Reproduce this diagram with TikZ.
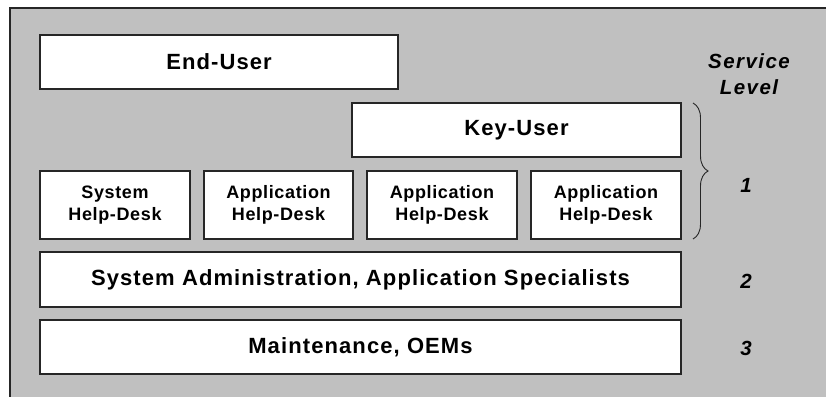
\documentclass[tikz,border=0pt]{standalone}
\usepackage{fontspec}
\setmainfont{Liberation Sans}
\newfontfamily\wide{Liberation Sans}[LetterSpace=5]
\newfontfamily\narrow{Liberation Sans}[LetterSpace=3.5]
\newfontfamily\widest{Liberation Sans}[LetterSpace=7]
\usetikzlibrary{decorations.pathreplacing}

\definecolor{panel}{HTML}{C0C0C0}
\definecolor{edge}{HTML}{262626}

\tikzset{
  layer/.style={draw=edge, line width=1.5pt, fill=white, inner sep=0pt,
    align=center, font=\wide\bfseries\fontsize{22}{26}\selectfont},
  desk/.style={layer, minimum width=150pt, minimum height=68pt,
    font=\narrow\bfseries\fontsize{18}{22}\selectfont},
  lvl/.style={inner sep=0pt, align=center,
    font=\widest\bfseries\itshape\fontsize{20.5}{26}\selectfont},
}

\begin{document}
\begin{tikzpicture}[x=1pt, y=-1pt]
  \useasboundingbox (0,0) rectangle (826,396);

  % grey panel, open on the right and at the bottom
  \fill[panel] (10,8) rectangle (830,400);
  \draw[edge, line width=1.5pt] (10,400) -- (10,8) -- (830,8);

  % user layers
  \node[layer, minimum width=358pt, minimum height=54pt] (end) at (219,62) {End-User};
  \node[layer, minimum width=329pt, minimum height=54pt] (key) at (516.5,130) {Key-User};

  % first-level help desks
  \node[desk] (hd1) at (115,205) {System\\Help-Desk};
  \node[desk, minimum width=149pt] (hd2) at (278.5,205) {Application\\Help-Desk};
  \node[desk] (hd3) at (442,205) {Application\\Help-Desk};
  \node[desk] (hd4) at (606,205) {Application\\Help-Desk};

  % second and third level
  \node[layer, minimum width=641pt, minimum height=55pt] (adm) at (360.5,279.5)
    {System Administration, Application Specialists};
  \node[layer, minimum width=641pt, minimum height=54pt] (oem) at (360.5,347)
    {Maintenance, OEMs};

  % service level column
  \node[lvl] (head) at (749,74) {Service\\Level};
  \coordinate (btop) at (693,103);
  \coordinate (bbot) at (693,239);
  \draw[edge, line width=0.9pt, decoration={brace, amplitude=15pt}, decorate]
    (btop) -- (bbot);
  \node[lvl] (l1) at (746,185) {1};
  \node[lvl] (l2) at (746,281) {2};
  \node[lvl] (l3) at (746,348) {3};
\end{tikzpicture}
\end{document}
